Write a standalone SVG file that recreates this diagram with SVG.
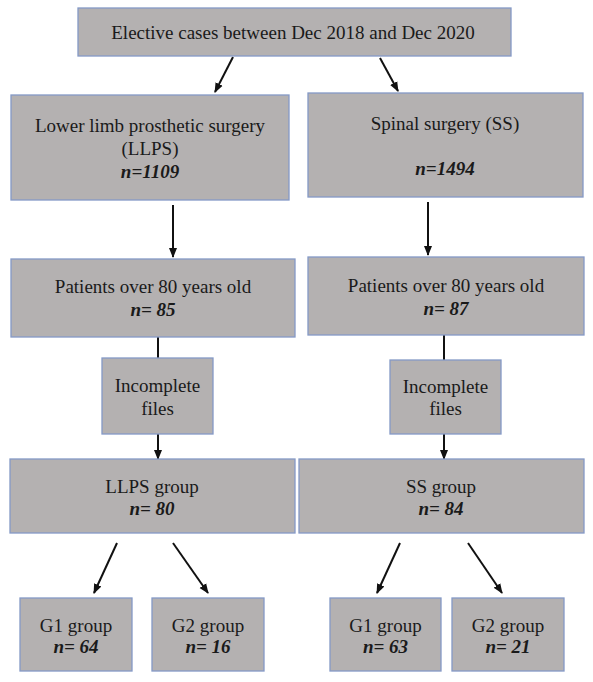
<svg xmlns="http://www.w3.org/2000/svg" width="593" height="682" viewBox="0 0 593 682">
<defs>
<style>
.box{fill:#b4b1b1;stroke:#8499c6;stroke-width:1.3}
.t{font-family:"Liberation Serif","Times New Roman",serif;font-size:19px;fill:#1a1a1a;text-anchor:middle}
.n{font-style:italic;font-weight:bold}
.c{stroke:#111;stroke-width:2;fill:none}
.a{stroke:#111;stroke-width:2;fill:none;marker-end:url(#ah)}
</style>
<marker id="ah" markerUnits="userSpaceOnUse" markerWidth="10" markerHeight="10" viewBox="0 0 10 10" refX="9" refY="5" orient="auto">
<path d="M0,1 L10,5 L0,9 Z" fill="#111"/>
</marker>
</defs>
<rect width="593" height="682" fill="#fff"/>
<g id="connectors">
<line class="a" x1="233" y1="57" x2="215" y2="92"/>
<line class="a" x1="380" y1="58" x2="398" y2="91"/>
<line class="a" x1="173" y1="205" x2="173" y2="257"/>
<line class="a" x1="428" y1="202" x2="428" y2="255"/>
<line class="c" x1="158" y1="337" x2="158" y2="358"/>
<line class="a" x1="158" y1="434" x2="158" y2="459"/>
<line class="c" x1="444" y1="335" x2="444" y2="360"/>
<line class="a" x1="444" y1="434" x2="444" y2="459"/>
<line class="a" x1="117" y1="543" x2="94" y2="593"/>
<line class="a" x1="173" y1="543" x2="208" y2="593"/>
<line class="a" x1="400" y1="543" x2="377" y2="593"/>
<line class="a" x1="468" y1="543" x2="502" y2="593"/>
</g>
<g id="top">
<rect class="box" x="78" y="8" width="433" height="48"/>
<text class="t" x="293" y="39">Elective cases between Dec 2018 and Dec 2020</text>
</g>
<g id="llps">
<rect class="box" x="11" y="95" width="278" height="105"/>
<text class="t" x="150" y="132">Lower limb prosthetic surgery</text>
<text class="t" x="150" y="155">(LLPS)</text>
<text class="t n" x="150" y="178">n=1109</text>
</g>
<g id="ss">
<rect class="box" x="308" y="93" width="275" height="104"/>
<text class="t" x="445" y="130">Spinal surgery (SS)</text>
<text class="t n" x="445" y="175">n=1494</text>
</g>
<g id="old-left">
<rect class="box" x="11" y="259" width="284" height="78"/>
<text class="t" x="153" y="293">Patients over 80 years old</text>
<text class="t n" x="153" y="316">n= 85</text>
</g>
<g id="old-right">
<rect class="box" x="308" y="257" width="276" height="78"/>
<text class="t" x="446" y="292">Patients over 80 years old</text>
<text class="t n" x="446" y="315">n= 87</text>
</g>
<g id="inc-left">
<rect class="box" x="102" y="358" width="111" height="76"/>
<text class="t" x="157.5" y="392">Incomplete</text>
<text class="t" x="157.5" y="415">files</text>
</g>
<g id="inc-right">
<rect class="box" x="390" y="360" width="111" height="74"/>
<text class="t" x="445.5" y="393">Incomplete</text>
<text class="t" x="445.5" y="415">files</text>
</g>
<g id="llps-group">
<rect class="box" x="10" y="459" width="285" height="74"/>
<text class="t" x="152" y="493">LLPS group</text>
<text class="t n" x="152" y="515">n= 80</text>
</g>
<g id="ss-group">
<rect class="box" x="299" y="459" width="285" height="74"/>
<text class="t" x="441" y="493">SS group</text>
<text class="t n" x="441" y="515">n= 84</text>
</g>
<g id="g1-left">
<rect class="box" x="20" y="598" width="112" height="73"/>
<text class="t" x="76" y="632">G1 group</text>
<text class="t n" x="76" y="653">n= 64</text>
</g>
<g id="g2-left">
<rect class="box" x="152" y="598" width="112" height="73"/>
<text class="t" x="208" y="632">G2 group</text>
<text class="t n" x="208" y="653">n= 16</text>
</g>
<g id="g1-right">
<rect class="box" x="330" y="598" width="111" height="73"/>
<text class="t" x="385.5" y="632">G1 group</text>
<text class="t n" x="385.5" y="653">n= 63</text>
</g>
<g id="g2-right">
<rect class="box" x="452" y="598" width="112" height="73"/>
<text class="t" x="508" y="632">G2 group</text>
<text class="t n" x="508" y="653">n= 21</text>
</g>
</svg>
